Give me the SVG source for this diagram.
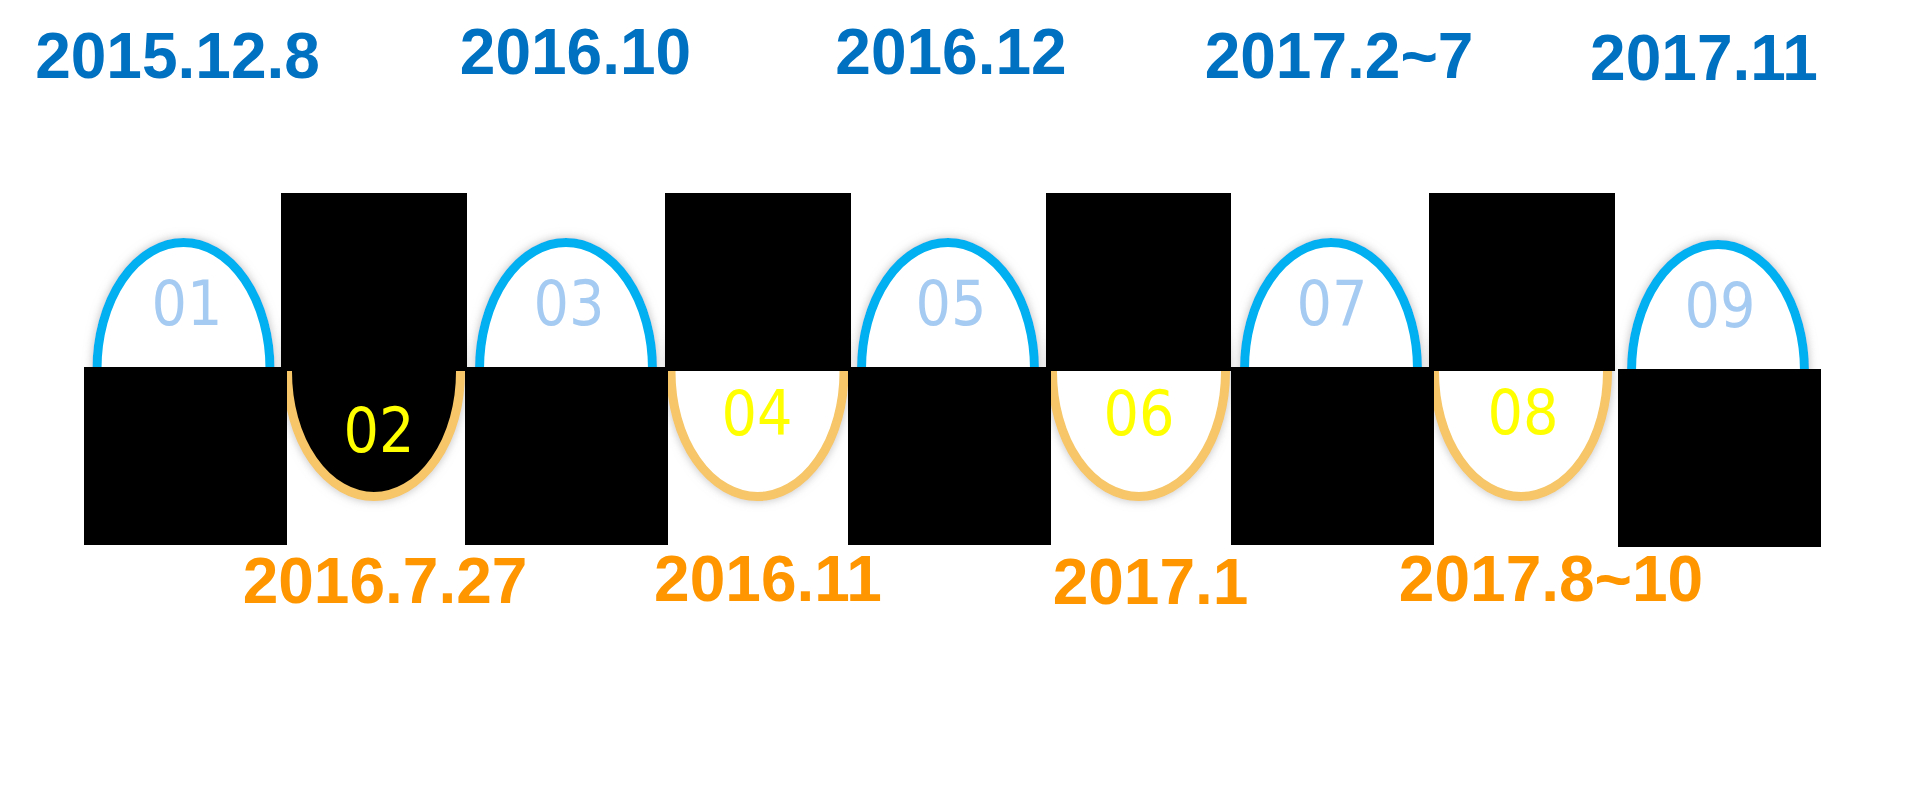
<svg xmlns="http://www.w3.org/2000/svg" width="1913" height="795" viewBox="0 0 1913 795">
  <defs>
    <filter id="sh" x="-20%" y="-20%" width="140%" height="140%">
      <feGaussianBlur in="SourceAlpha" stdDeviation="5"/>
      <feColorMatrix type="matrix" values="0 0 0 0 0.4  0 0 0 0 0.4  0 0 0 0 0.4  0 0 0 0.75 0"/>
      <feMerge><feMergeNode/><feMergeNode in="SourceGraphic"/></feMerge>
    </filter>
  </defs>
  <style>
    .top { fill: #ffffff; stroke: #00B0F0; stroke-width: 9; filter: url(#sh); }
    .bot { fill: #ffffff; stroke: #F6C667; stroke-width: 9; filter: url(#sh); }
    .blk { fill: #000000; }
    .nt { font-family: "DejaVu Sans Condensed", "DejaVu Sans", sans-serif; font-stretch: condensed; font-size: 62px; fill: #A6CBF2; text-anchor: middle; }
    .nb { font-family: "DejaVu Sans Condensed", "DejaVu Sans", sans-serif; font-stretch: condensed; font-size: 62px; fill: #FFFF00; text-anchor: middle; }
    .dt { font-family: "Liberation Sans", Arial, sans-serif; font-weight: bold; font-size: 64px; fill: #0070C0; text-anchor: middle; }
    .db { font-family: "Liberation Sans", Arial, sans-serif; font-weight: bold; font-size: 64px; fill: #FF9600; text-anchor: middle; }
  </style>
  <rect width="1913" height="795" fill="#ffffff"/>

  <!-- ellipses -->
  <g id="ellipses">
    <ellipse id="e01" class="top" cx="183.5" cy="369" rx="86.5" ry="126.5"/>
    <ellipse id="e03" class="top" cx="566" cy="369" rx="86.5" ry="126.5"/>
    <ellipse id="e05" class="top" cx="948" cy="369" rx="86.5" ry="126.5"/>
    <ellipse id="e07" class="top" cx="1331" cy="369" rx="86.5" ry="126.5"/>
    <ellipse id="e09" class="top" cx="1718" cy="371" rx="86.5" ry="126.5"/>
    <ellipse id="e02" class="bot" cx="374" cy="372" rx="86.5" ry="124.5" style="fill:#000000"/>
    <ellipse id="e04" class="bot" cx="757.5" cy="372" rx="86.5" ry="124.5"/>
    <ellipse id="e06" class="bot" cx="1139" cy="372" rx="86.5" ry="124.5"/>
    <ellipse id="e08" class="bot" cx="1521" cy="372" rx="86.5" ry="124.5"/>
  </g>

  <!-- black blocks -->
  <g id="blocks">
    <rect class="blk" x="281" y="193" width="186" height="178"/>
    <rect class="blk" x="665" y="193" width="186" height="178"/>
    <rect class="blk" x="1046" y="193" width="185" height="178"/>
    <rect class="blk" x="1429" y="193" width="186" height="178"/>
    <rect class="blk" x="84" y="367" width="203" height="178"/>
    <rect class="blk" x="465" y="367" width="203" height="178"/>
    <rect class="blk" x="848" y="367" width="203" height="178"/>
    <rect class="blk" x="1231" y="367" width="203" height="178"/>
    <rect class="blk" x="1618" y="369" width="203" height="178"/>
  </g>

  <g id="node-01"><text class="nt" x="187" y="325">01</text><text class="dt" x="177.5" y="78">2015.12.8</text></g>
  <g id="node-02"><text class="nb" x="379" y="452">02</text><text class="db" x="385" y="603">2016.7.27</text></g>
  <g id="node-03"><text class="nt" x="569" y="325">03</text><text class="dt" x="575.5" y="74">2016.10</text></g>
  <g id="node-04"><text class="nb" x="757" y="435">04</text><text class="db" x="768" y="601">2016.11</text></g>
  <g id="node-05"><text class="nt" x="951" y="325">05</text><text class="dt" x="951" y="74">2016.12</text></g>
  <g id="node-06"><text class="nb" x="1139" y="435">06</text><text class="db" x="1150.5" y="604">2017.1</text></g>
  <g id="node-07"><text class="nt" x="1332" y="325">07</text><text class="dt" x="1339" y="78">2017.2~7</text></g>
  <g id="node-08"><text class="nb" x="1523" y="434">08</text><text class="db" x="1551" y="601">2017.8~10</text></g>
  <g id="node-09"><text class="nt" x="1720" y="327">09</text><text class="dt" x="1704" y="80">2017.11</text></g>
</svg>
